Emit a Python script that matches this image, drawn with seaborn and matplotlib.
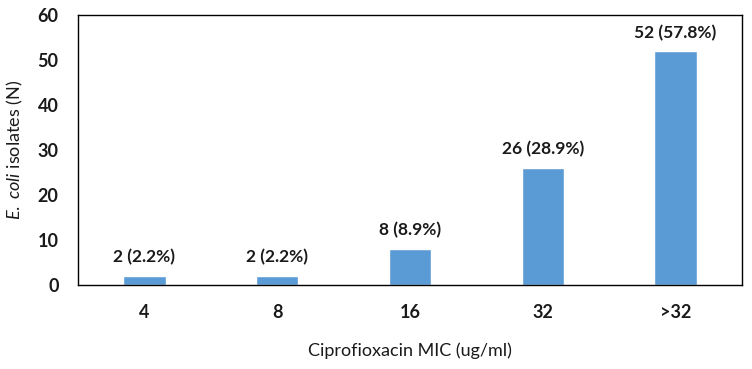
import pandas as pd
import matplotlib.pyplot as plt
import seaborn as sns

# values
mic = ['4', '8', '16', '32', '>32']
isolates = [2, 2, 8, 26, 52]
labels = ['2 (2.2%)', '2 (2.2%)', '8 (8.9%)', '26 (28.9%)', '52 (57.8%)']

df = pd.DataFrame({'MIC': mic, 'N': isolates})

sns.set_style('white')
plt.rcParams['font.family'] = ['Lato', 'DejaVu Sans']
plt.rcParams['mathtext.fontset'] = 'custom'
plt.rcParams['mathtext.it'] = 'Lato:italic'
plt.rcParams['mathtext.rm'] = 'Lato'

fig = plt.figure(figsize=(7.52, 3.69), dpi=100)
ax = fig.add_axes([0.1037, 0.2276, 0.883, 0.7314])

sns.barplot(x='MIC', y='N', data=df, color='#5B9BD5', width=0.32,
            saturation=1, ax=ax)

for i, (v, t) in enumerate(zip(isolates, labels)):
    ax.text(i, v + 2.3, t, ha='center', va='bottom', fontsize=12.5,
            fontweight='bold', color='#1a1a1a')

ax.set_ylim(0, 60)
ax.set_yticks(range(0, 61, 10))
ax.tick_params(axis='both', length=0, labelsize=13, pad=14)
for lab in ax.get_xticklabels() + ax.get_yticklabels():
    lab.set_fontweight('bold')
    lab.set_color('#1a1a1a')

for s in ax.spines.values():
    s.set_color('black')
    s.set_linewidth(1.0)

ax.set_xlabel('Ciprofioxacin MIC (ug/ml)', fontsize=13, labelpad=15, color='#1a1a1a')
ax.set_ylabel(r'$\it{E.}$ $\it{coli}$ isolates (N)', fontsize=13, labelpad=9, color='#1a1a1a')

fig.savefig('out.png', dpi=100)
